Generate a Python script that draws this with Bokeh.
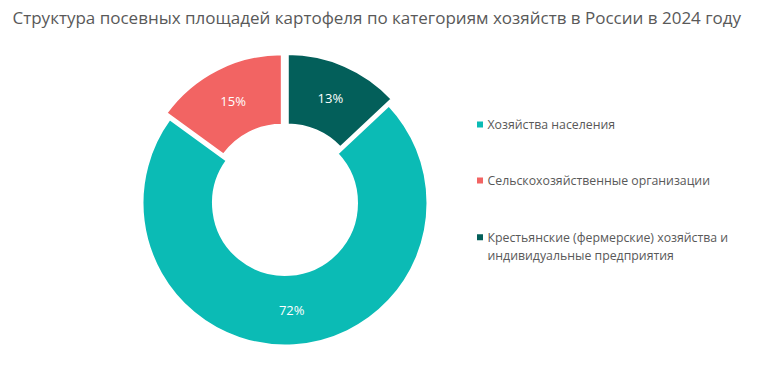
import numpy as np
from bokeh.plotting import figure
from bokeh.models import Range1d, ColumnDataSource
from bokeh.core.properties import value
from bokeh.embed import file_html
from bokeh.resources import INLINE

# ---- data ----
title = "Структура посевных площадей картофеля по категориям хозяйств в России в 2024 году"
categories = ["Хозяйства населения",
              "Сельскохозяйственные организации",
              "Крестьянские (фермерские) хозяйства и индивидуальные предприятия"]
legend_lines = [["Хозяйства населения"],
                ["Сельскохозяйственные организации"],
                ["Крестьянские (фермерские) хозяйства и", "индивидуальные предприятия"]]
shares = [72, 15, 13]
pct_labels = ["72%", "15%", "13%"]

# ---- styles ----
colors = ["#0BBBB5", "#F26463", "#035F5A"]
explode = [0, 7, 7]
first_angle_deg = 43.2   # start of first slice (math angle), slices run clockwise
FONT = "Open Sans"
W, H = 759, 384
cx, cy = 284.5, 181.5
r_out, r_in = 142.5, 72.0

p = figure(width=W, height=H, output_backend="svg", toolbar_location=None,
           x_range=Range1d(0, W), y_range=Range1d(0, H),
           x_axis_type=None, y_axis_type=None, min_border=0)
p.grid.visible = False
p.outline_line_color = None
p.background_fill_color = "white"

total = float(sum(shares))
frac = np.array(shares) / total
cum = np.concatenate([[0], np.cumsum(frac)])
a0 = np.deg2rad(first_angle_deg)
starts = a0 - cum[:-1] * 2 * np.pi
ends = a0 - cum[1:] * 2 * np.pi
mids = (starts + ends) / 2
ex = np.array(explode, dtype=float)
xs = cx + ex * np.cos(mids)
ys = cy + ex * np.sin(mids)

src = ColumnDataSource(dict(x=xs, y=ys, start=ends, end=starts, color=colors))
p.annular_wedge(x="x", y="y", inner_radius=r_in, outer_radius=r_out,
                start_angle="start", end_angle="end", direction="anticlock",
                fill_color="color", line_color="white", line_width=2, source=src)

r_lab = (r_in + r_out) / 2 + ex
lsrc = ColumnDataSource(dict(x=cx + r_lab * np.cos(mids), y=cy + r_lab * np.sin(mids), t=pct_labels))
p.text(x="x", y="y", text="t", source=lsrc, text_align="center", text_baseline="middle",
       text_color="white", text_font=value(FONT), text_font_size="13px")

# title
p.text(x=[12], y=[H - 17], text=[title], text_align="left", text_baseline="middle",
       text_color="#595959", text_font=value(FONT), text_font_size="17px")

# legend
row_y = [H - 124, H - 180, H - 236.7]
line_gap = 18.5
sq_x = 479.5
txt_x = 487
for i, lines in enumerate(legend_lines):
    p.rect(x=[sq_x], y=[row_y[i]], width=6, height=6, fill_color=colors[i], line_color=None)
    p.text(x=[txt_x] * len(lines), y=[row_y[i] - k * line_gap for k in range(len(lines))],
           text=lines, text_align="left", text_baseline="middle",
           text_color="#595959", text_font=value(FONT), text_font_size="12.3px")

open("out.html", "w").write(file_html(p, INLINE))
